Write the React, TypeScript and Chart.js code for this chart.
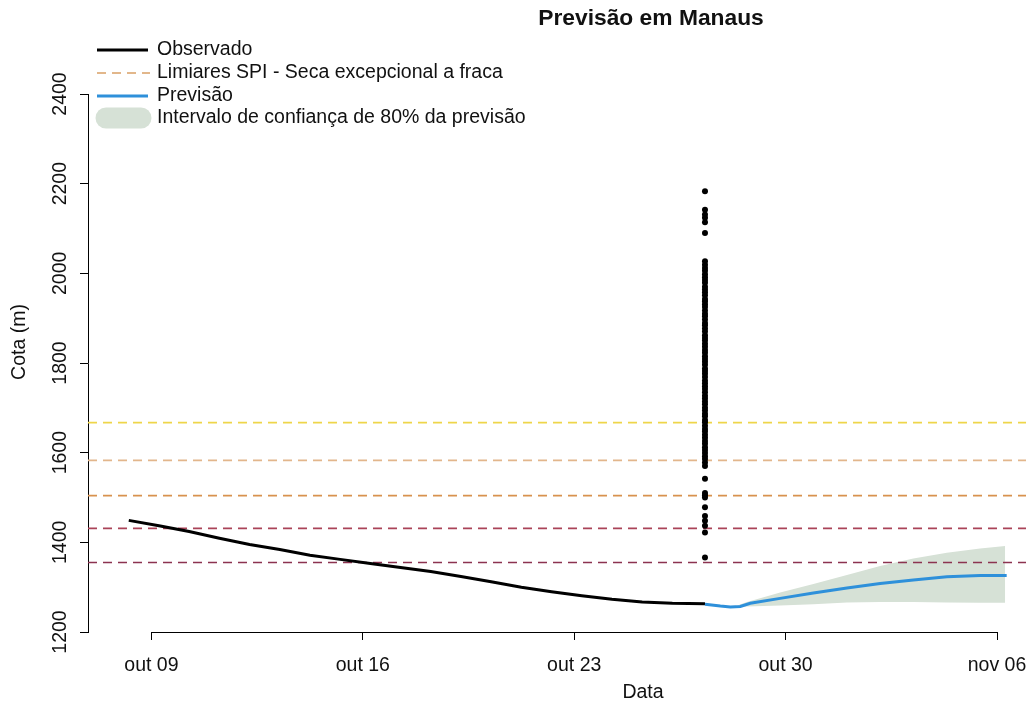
import { useEffect, useRef } from "react";
import { Chart, registerables } from "chart.js";

Chart.register(...registerables);

const TITLE = "Previsão em Manaus";
const X_TITLE = "Data";
const Y_TITLE = "Cota (m)";

// x values are days counted from 09 Oct
const xTickDays = [0, 7, 14, 21, 28];
const xTickLabels = ["out 09", "out 16", "out 23", "out 30", "nov 06"];
const yTicks = [1200, 1400, 1600, 1800, 2000, 2200, 2400];

const obsDays = [-0.75, 0.25, 1.25, 2.25, 3.25, 4.25, 5.25, 6.25, 7.25, 8.25, 9.25, 10.25, 11.25, 12.25, 13.25, 14.25, 15.25, 16.25, 17.25, 18.33];
const obsValues = [1449, 1437, 1424, 1409, 1395, 1384, 1371, 1362, 1353, 1344, 1335, 1324, 1312, 1300, 1290, 1281, 1273, 1267, 1264, 1263];

const fcDays = [18.33, 18.84, 19.17, 19.5, 19.83, 20.82, 21.92, 23.03, 24.13, 25.23, 26.34, 27.44, 28.32];
const fcValues = [1262, 1258, 1256, 1257, 1264, 1275, 1287, 1298, 1308, 1316, 1323, 1326, 1326];

const bandDays = [19.4, 19.72, 20.82, 21.92, 23.03, 24.13, 25.23, 26.34, 27.44, 28.27];
const bandUpper = [1259, 1267, 1288, 1307, 1327, 1347, 1364, 1377, 1386, 1392];
const bandLower = [1255, 1257, 1259, 1262, 1266, 1267, 1267, 1266, 1265, 1265];

const ensembleDay = 18.33;
const ensembleValues = [
  2183, 2142, 2131, 2124, 2114, 2090,
  2027, 2019, 2012, 2006, 1998, 1991, 1985, 1979, 1970, 1964, 1958, 1951, 1943, 1938,
  1931, 1925, 1917, 1910, 1904, 1897, 1889, 1884, 1877, 1870, 1862, 1856, 1850, 1843,
  1836, 1829, 1823, 1815, 1809, 1803, 1796, 1788, 1782, 1776, 1769, 1761, 1755, 1748,
  1742, 1735, 1727, 1721, 1714, 1708, 1700, 1694, 1687, 1681, 1673, 1668, 1660, 1653,
  1647, 1640, 1633, 1626, 1620, 1612, 1606, 1599, 1592, 1586, 1578, 1570,
  1542, 1510, 1505, 1500, 1478, 1459, 1448, 1437, 1422, 1366,
];

const thresholdValues = [1667, 1583, 1504, 1431, 1355];
const thresholdColors = ["#EED54A", "#E2B68C", "#D8924E", "#AA4358", "#8C3350"];

const legendLabels = [
  "Observado",
  "Limiares SPI - Seca excepcional a fraca",
  "Previsão",
  "Intervalo de confiança de 80% da previsão",
];

const X_MIN = -2.1;
const X_MAX = 28.96;
const FONT = '"Liberation Sans", Arial, sans-serif';

const decorPlugin = {
  id: "decor",
  afterDraw(chart: any) {
    const ctx = chart.ctx;
    const xs = chart.scales.x;
    const ys = chart.scales.y;
    ctx.save();
    ctx.fillStyle = "#111";
    ctx.strokeStyle = "#000";

    // x axis line spanning the ticks
    ctx.lineWidth = 1;
    const bottom = Math.round(chart.chartArea.bottom) + 0.5;
    ctx.beginPath();
    ctx.moveTo(xs.getPixelForValue(xTickDays[0]), bottom);
    ctx.lineTo(xs.getPixelForValue(xTickDays[xTickDays.length - 1]), bottom);
    ctx.stroke();

    // x tick labels
    ctx.font = `19.5px ${FONT}`;
    ctx.textAlign = "center";
    ctx.textBaseline = "middle";
    xTickDays.forEach((d, i) => {
      ctx.fillText(xTickLabels[i], xs.getPixelForValue(d), 666);
    });
    // y tick labels (rotated)
    yTicks.forEach((v) => {
      ctx.save();
      ctx.translate(61, ys.getPixelForValue(v));
      ctx.rotate(-Math.PI / 2);
      ctx.fillText(String(v), 0, 0);
      ctx.restore();
    });
    // axis titles
    ctx.fillText(X_TITLE, 643, 693);
    ctx.save();
    ctx.translate(20, 342);
    ctx.rotate(-Math.PI / 2);
    ctx.fillText(Y_TITLE, 0, 0);
    ctx.restore();

    // title
    ctx.font = `bold 22.8px ${FONT}`;
    ctx.fillText(TITLE, 651, 19);

    // legend
    const rows = [50, 73, 96, 118];
    ctx.textAlign = "left";
    ctx.font = `19.5px ${FONT}`;
    // observed
    ctx.lineWidth = 3;
    ctx.strokeStyle = "#000";
    ctx.beginPath();
    ctx.moveTo(97, rows[0]);
    ctx.lineTo(148, rows[0]);
    ctx.stroke();
    // thresholds
    ctx.lineWidth = 1.6;
    ctx.strokeStyle = "#D9A066";
    ctx.setLineDash([9, 6]);
    ctx.beginPath();
    ctx.moveTo(97, rows[1]);
    ctx.lineTo(150, rows[1]);
    ctx.stroke();
    ctx.setLineDash([]);
    // forecast
    ctx.lineWidth = 3;
    ctx.strokeStyle = "#2E90DA";
    ctx.beginPath();
    ctx.moveTo(97, rows[2]);
    ctx.lineTo(148, rows[2]);
    ctx.stroke();
    // band
    ctx.lineWidth = 21;
    ctx.lineCap = "round";
    ctx.strokeStyle = "#D6E1D6";
    ctx.beginPath();
    ctx.moveTo(106, rows[3]);
    ctx.lineTo(141, rows[3]);
    ctx.stroke();
    ctx.lineCap = "butt";

    legendLabels.forEach((t, i) => {
      ctx.fillText(t, 157, rows[i]);
    });
    ctx.restore();
  },
};

export default function App() {
  const ref = useRef<HTMLCanvasElement | null>(null);

  useEffect(() => {
    if (!ref.current) return;
    const pts = (xs: number[], ys: number[]) => xs.map((x, i) => ({ x, y: ys[i] }));

    const thresholdSets = thresholdValues.map((v, i) => ({
      type: "line" as const,
      data: [
        { x: X_MIN, y: v },
        { x: X_MAX, y: v },
      ],
      borderColor: thresholdColors[i],
      borderWidth: 1.7,
      borderDash: [9, 6],
      pointRadius: 0,
      fill: false,
      order: 5,
    }));

    const chart = new Chart(ref.current, {
      type: "line",
      data: {
        datasets: [
          {
            data: pts(bandDays, bandUpper),
            borderWidth: 0,
            borderColor: "rgba(0,0,0,0)",
            backgroundColor: "#D6E1D6",
            pointRadius: 0,
            fill: "+1",
            order: 10,
          },
          {
            data: pts(bandDays, bandLower),
            borderWidth: 0,
            borderColor: "rgba(0,0,0,0)",
            pointRadius: 0,
            fill: false,
            order: 9,
          },
          ...thresholdSets,
          {
            data: pts(obsDays, obsValues),
            borderColor: "#000",
            borderWidth: 3,
            pointRadius: 0,
            fill: false,
            order: 3,
          },
          {
            data: pts(fcDays, fcValues),
            borderColor: "#2E90DA",
            borderWidth: 3,
            pointRadius: 0,
            fill: false,
            order: 2,
          },
          {
            type: "scatter" as const,
            data: ensembleValues.map((v) => ({ x: ensembleDay, y: v })),
            backgroundColor: "#000",
            borderColor: "#000",
            pointRadius: 3,
            pointBorderWidth: 0,
            showLine: false,
            order: 1,
          },
        ] as any,
      },
      options: {
        responsive: false,
        animation: false,
        devicePixelRatio: 1,
        layout: { padding: { left: 0, right: 0, top: 94, bottom: 0 } },
        plugins: {
          legend: { display: false },
          tooltip: { enabled: false },
          title: { display: false },
        },
        scales: {
          x: {
            type: "linear",
            min: X_MIN,
            max: X_MAX,
            afterBuildTicks: (s: any) => {
              s.ticks = xTickDays.map((v) => ({ value: v }));
            },
            afterFit: (s: any) => {
              s.height = 78;
            },
            ticks: { display: false },
            grid: {
              display: true,
              drawOnChartArea: false,
              drawTicks: true,
              tickLength: 8,
              color: "#000",
              lineWidth: 1,
            },
            border: { display: false },
          },
          y: {
            type: "linear",
            min: 1200,
            max: 2400,
            afterBuildTicks: (s: any) => {
              s.ticks = yTicks.map((v) => ({ value: v }));
            },
            afterFit: (s: any) => {
              s.width = 88;
            },
            ticks: { display: false },
            grid: {
              display: true,
              drawOnChartArea: false,
              drawTicks: true,
              tickLength: 8,
              color: "#000",
              lineWidth: 1,
            },
            border: { display: true, color: "#000", width: 1 },
          },
        },
      } as any,
      plugins: [decorPlugin],
    });
    return () => chart.destroy();
  }, []);

  return (
    <div style={{ position: "fixed", left: 0, top: 0, width: 1030, height: 710, background: "#fff" }}>
      <canvas ref={ref} width={1030} height={710} style={{ display: "block" }} />
    </div>
  );
}
